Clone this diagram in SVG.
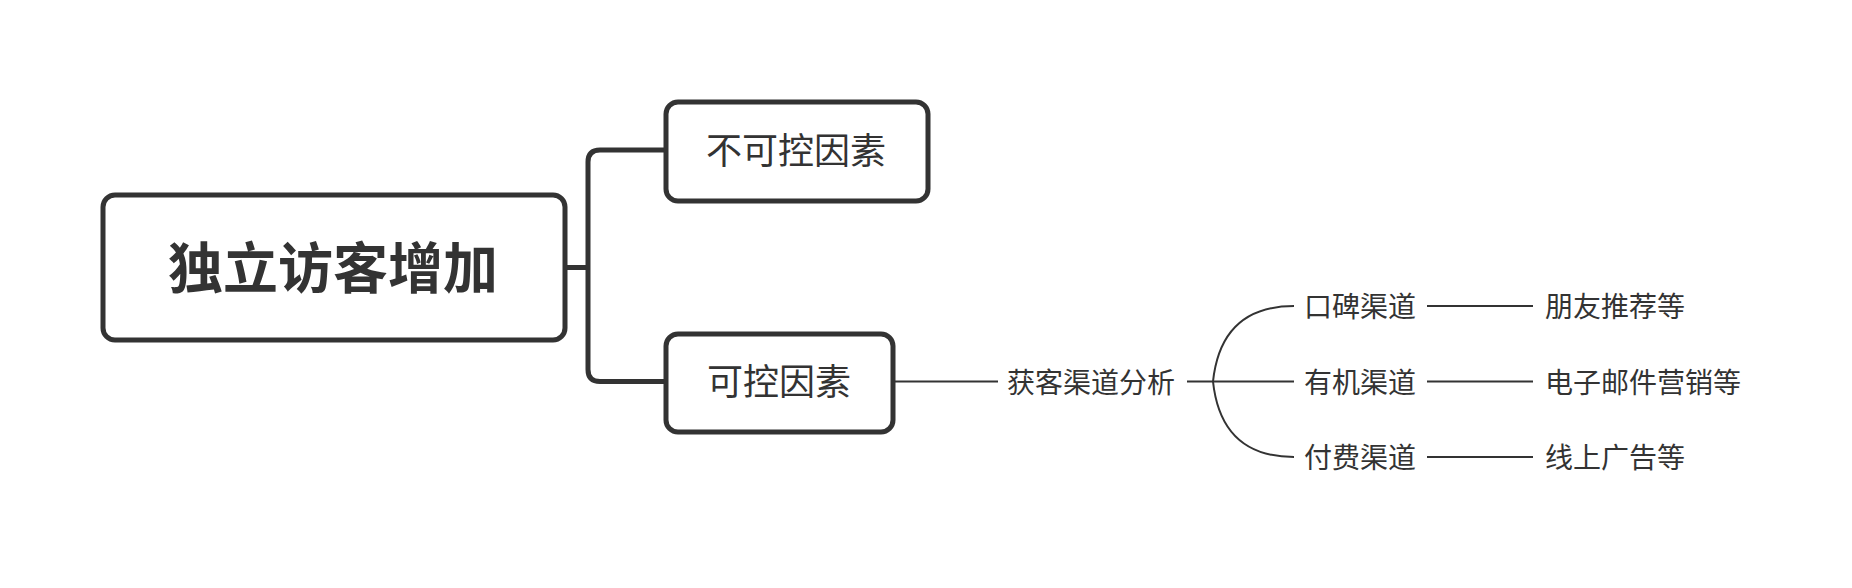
<svg xmlns="http://www.w3.org/2000/svg" width="1852" height="588" viewBox="0 0 1852 588">
<style>
.box{fill:#fff;stroke:#333;stroke-width:5}
.thick{fill:none;stroke:#333;stroke-width:5;stroke-linejoin:round}
.thin{fill:none;stroke:#333;stroke-width:2}
text{font-family:"Noto Sans CJK SC","Noto Sans",sans-serif;fill:#333;dominant-baseline:central}
.c{text-anchor:middle}
</style>
<rect width="1852" height="588" fill="#fff"/>
<g id="connectors">
<path class="thick" d="M565,267.5 H588"/>
<path class="thick" d="M666,150 H600 Q588,150 588,162 V369.5 Q588,381.5 600,381.5 H666"/>
<path class="thin" d="M893,381.5 H998"/>
<path class="thin" d="M1187,381.5 H1294"/>
<path class="thin" d="M1213,381.5 C1218,335 1242,306 1294,306"/>
<path class="thin" d="M1213,381.5 C1218,428 1242,457 1294,457"/>
<path class="thin" d="M1427,306 H1533"/>
<path class="thin" d="M1427,381.5 H1533"/>
<path class="thin" d="M1427,457 H1533"/>
</g>
<g id="root">
<rect class="box" x="103" y="195" width="462" height="145" rx="12"/>
<text class="c" x="333" y="264" font-size="55" font-weight="bold">独立访客增加</text>
</g>
<g id="uncontrollable">
<rect class="box" x="666" y="102" width="262" height="99" rx="12"/>
<text class="c" x="796" y="148" font-size="36">不可控因素</text>
</g>
<g id="controllable">
<rect class="box" x="666" y="334" width="227" height="98" rx="12"/>
<text class="c" x="779" y="379" font-size="36">可控因素</text>
</g>
<g id="analysis">
<text x="1007" y="381" font-size="28">获客渠道分析</text>
</g>
<g id="wordofmouth">
<text x="1304" y="305" font-size="28">口碑渠道</text>
</g>
<g id="organic">
<text x="1304" y="381" font-size="28">有机渠道</text>
</g>
<g id="paid">
<text x="1304" y="456" font-size="28">付费渠道</text>
</g>
<g id="leaf1">
<text x="1545" y="305" font-size="28">朋友推荐等</text>
</g>
<g id="leaf2">
<text x="1545" y="381" font-size="28">电子邮件营销等</text>
</g>
<g id="leaf3">
<text x="1545" y="456" font-size="28">线上广告等</text>
</g>
</svg>
